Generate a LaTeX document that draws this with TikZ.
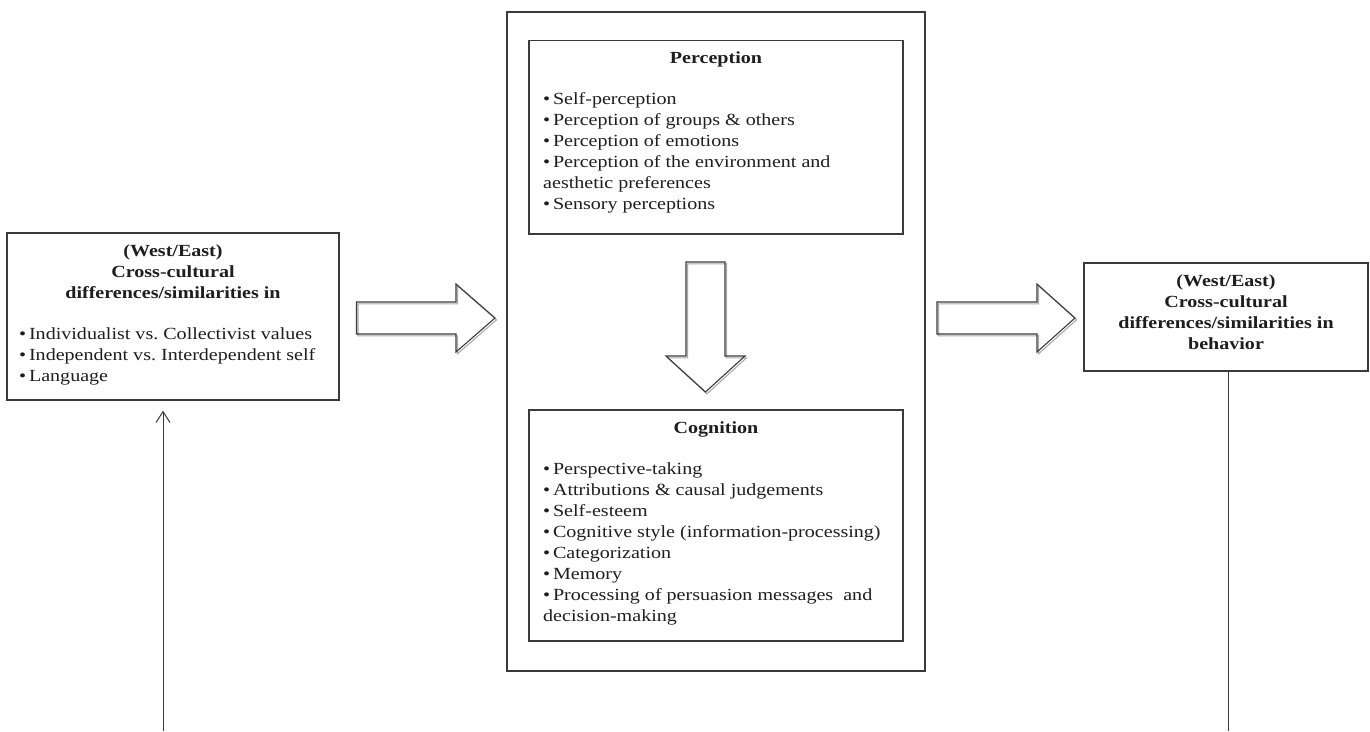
\documentclass[tikz,border=0pt]{standalone}
\usepackage{fontspec}
\setmainfont{Liberation Serif}[FakeStretch=1.18]
\usetikzlibrary{arrows.meta,calc}
\definecolor{ln}{HTML}{3A3A3A}
\definecolor{shd}{HTML}{ABABAB}
\definecolor{tx}{HTML}{1E1E1E}
\frenchspacing
\tikzset{
  box/.style={draw=ln, line width=1.3pt, inner sep=0pt, fill=none},
  txt/.style={text=tx, inner sep=0pt, align=left, anchor=north west,
    font=\fontsize{17}{21}\selectfont},
  ttl/.style={text=tx, inner sep=0pt, align=center, anchor=north,
    font=\fontsize{17}{21}\selectfont\bfseries},
  fatline/.style={draw=ln, line width=1.1pt, line join=miter},
  fatshadow/.style={draw=shd, line width=1.1pt, line join=miter},
  thin/.style={draw=ln, line width=1pt},
}
\begin{document}
\begin{tikzpicture}[x=1pt,y=-1pt]
\useasboundingbox (0,0) rectangle (1370,731);
% boxes
\node[box, minimum width=332pt, minimum height=167pt] (lbox) at (173,316.5) {};
\node[box, minimum width=418pt, minimum height=659pt] (outer) at (716,341.5) {};
\node[box, minimum width=374pt, minimum height=193.5pt] (perc) at (716,137.3) {};
\node[box, minimum width=374pt, minimum height=231pt] (cogn) at (716,525.5) {};
\node[box, minimum width=284pt, minimum height=108pt] (rbox) at (1226,317) {};
% texts
\node[ttl] (lttl) at (173,244) {(West/East)\\Cross-cultural\\differences/similarities in};
\node[txt] (ltxt) at (19,327) {•\,Individualist vs. Collectivist values\\•\,Independent vs. Interdependent self\\•\,Language};
\node[ttl] (pttl) at (716,51.5) {Perception};
\node[txt] (ptxt) at (543,92) {•\,Self-perception\\•\,Perception of groups \& others\\•\,Perception of emotions\\•\,Perception of the environment and\\aesthetic preferences\\•\,Sensory perceptions};
\node[ttl] (cttl) at (716,421) {Cognition};
\node[txt] (ctxt) at (543,462) {•\,Perspective-taking\\•\,Attributions \& causal judgements\\•\,Self-esteem\\•\,Cognitive style (information-processing)\\•\,Categorization\\•\,Memory\\•\,Processing of persuasion messages\ \ and\\decision-making};
\node[ttl] (rttl) at (1226,274) {(West/East)\\Cross-cultural\\differences/similarities in\\behavior};
% fat arrows (shadow first)
\draw[fatshadow,shift={(1.5,1.8)}] (356.5,302) -- (456,302) -- (456,284) -- (495,318) -- (456,352) -- (456,334) -- (356.5,334) -- cycle;
\draw[fatline] (356.5,302) -- (456,302) -- (456,284) -- (495,318) -- (456,352) -- (456,334) -- (356.5,334) -- cycle;
\draw[fatshadow,shift={(1.5,1.8)}] (937,302) -- (1037,302) -- (1037,284) -- (1075,318) -- (1037,352) -- (1037,334) -- (937,334) -- cycle;
\draw[fatline] (937,302) -- (1037,302) -- (1037,284) -- (1075,318) -- (1037,352) -- (1037,334) -- (937,334) -- cycle;
\draw[fatshadow,shift={(1.5,1.8)}] (686,262) -- (725,262) -- (725,356) -- (745,356) -- (705.5,392) -- (666,356) -- (686,356) -- cycle;
\draw[fatline] (686,262) -- (725,262) -- (725,356) -- (745,356) -- (705.5,392) -- (666,356) -- (686,356) -- cycle;
% thin connectors
\coordinate (lstart) at (163,731);
\coordinate (rend) at (1228,731);
\draw[thin, -{Straight Barb[length=11pt,width=14pt,line width=1pt]}, shorten >=10pt] (lstart) -- (lstart |- lbox.south);
\draw[thin] (rbox.south -| rend) -- (rend);
\end{tikzpicture}
\end{document}
